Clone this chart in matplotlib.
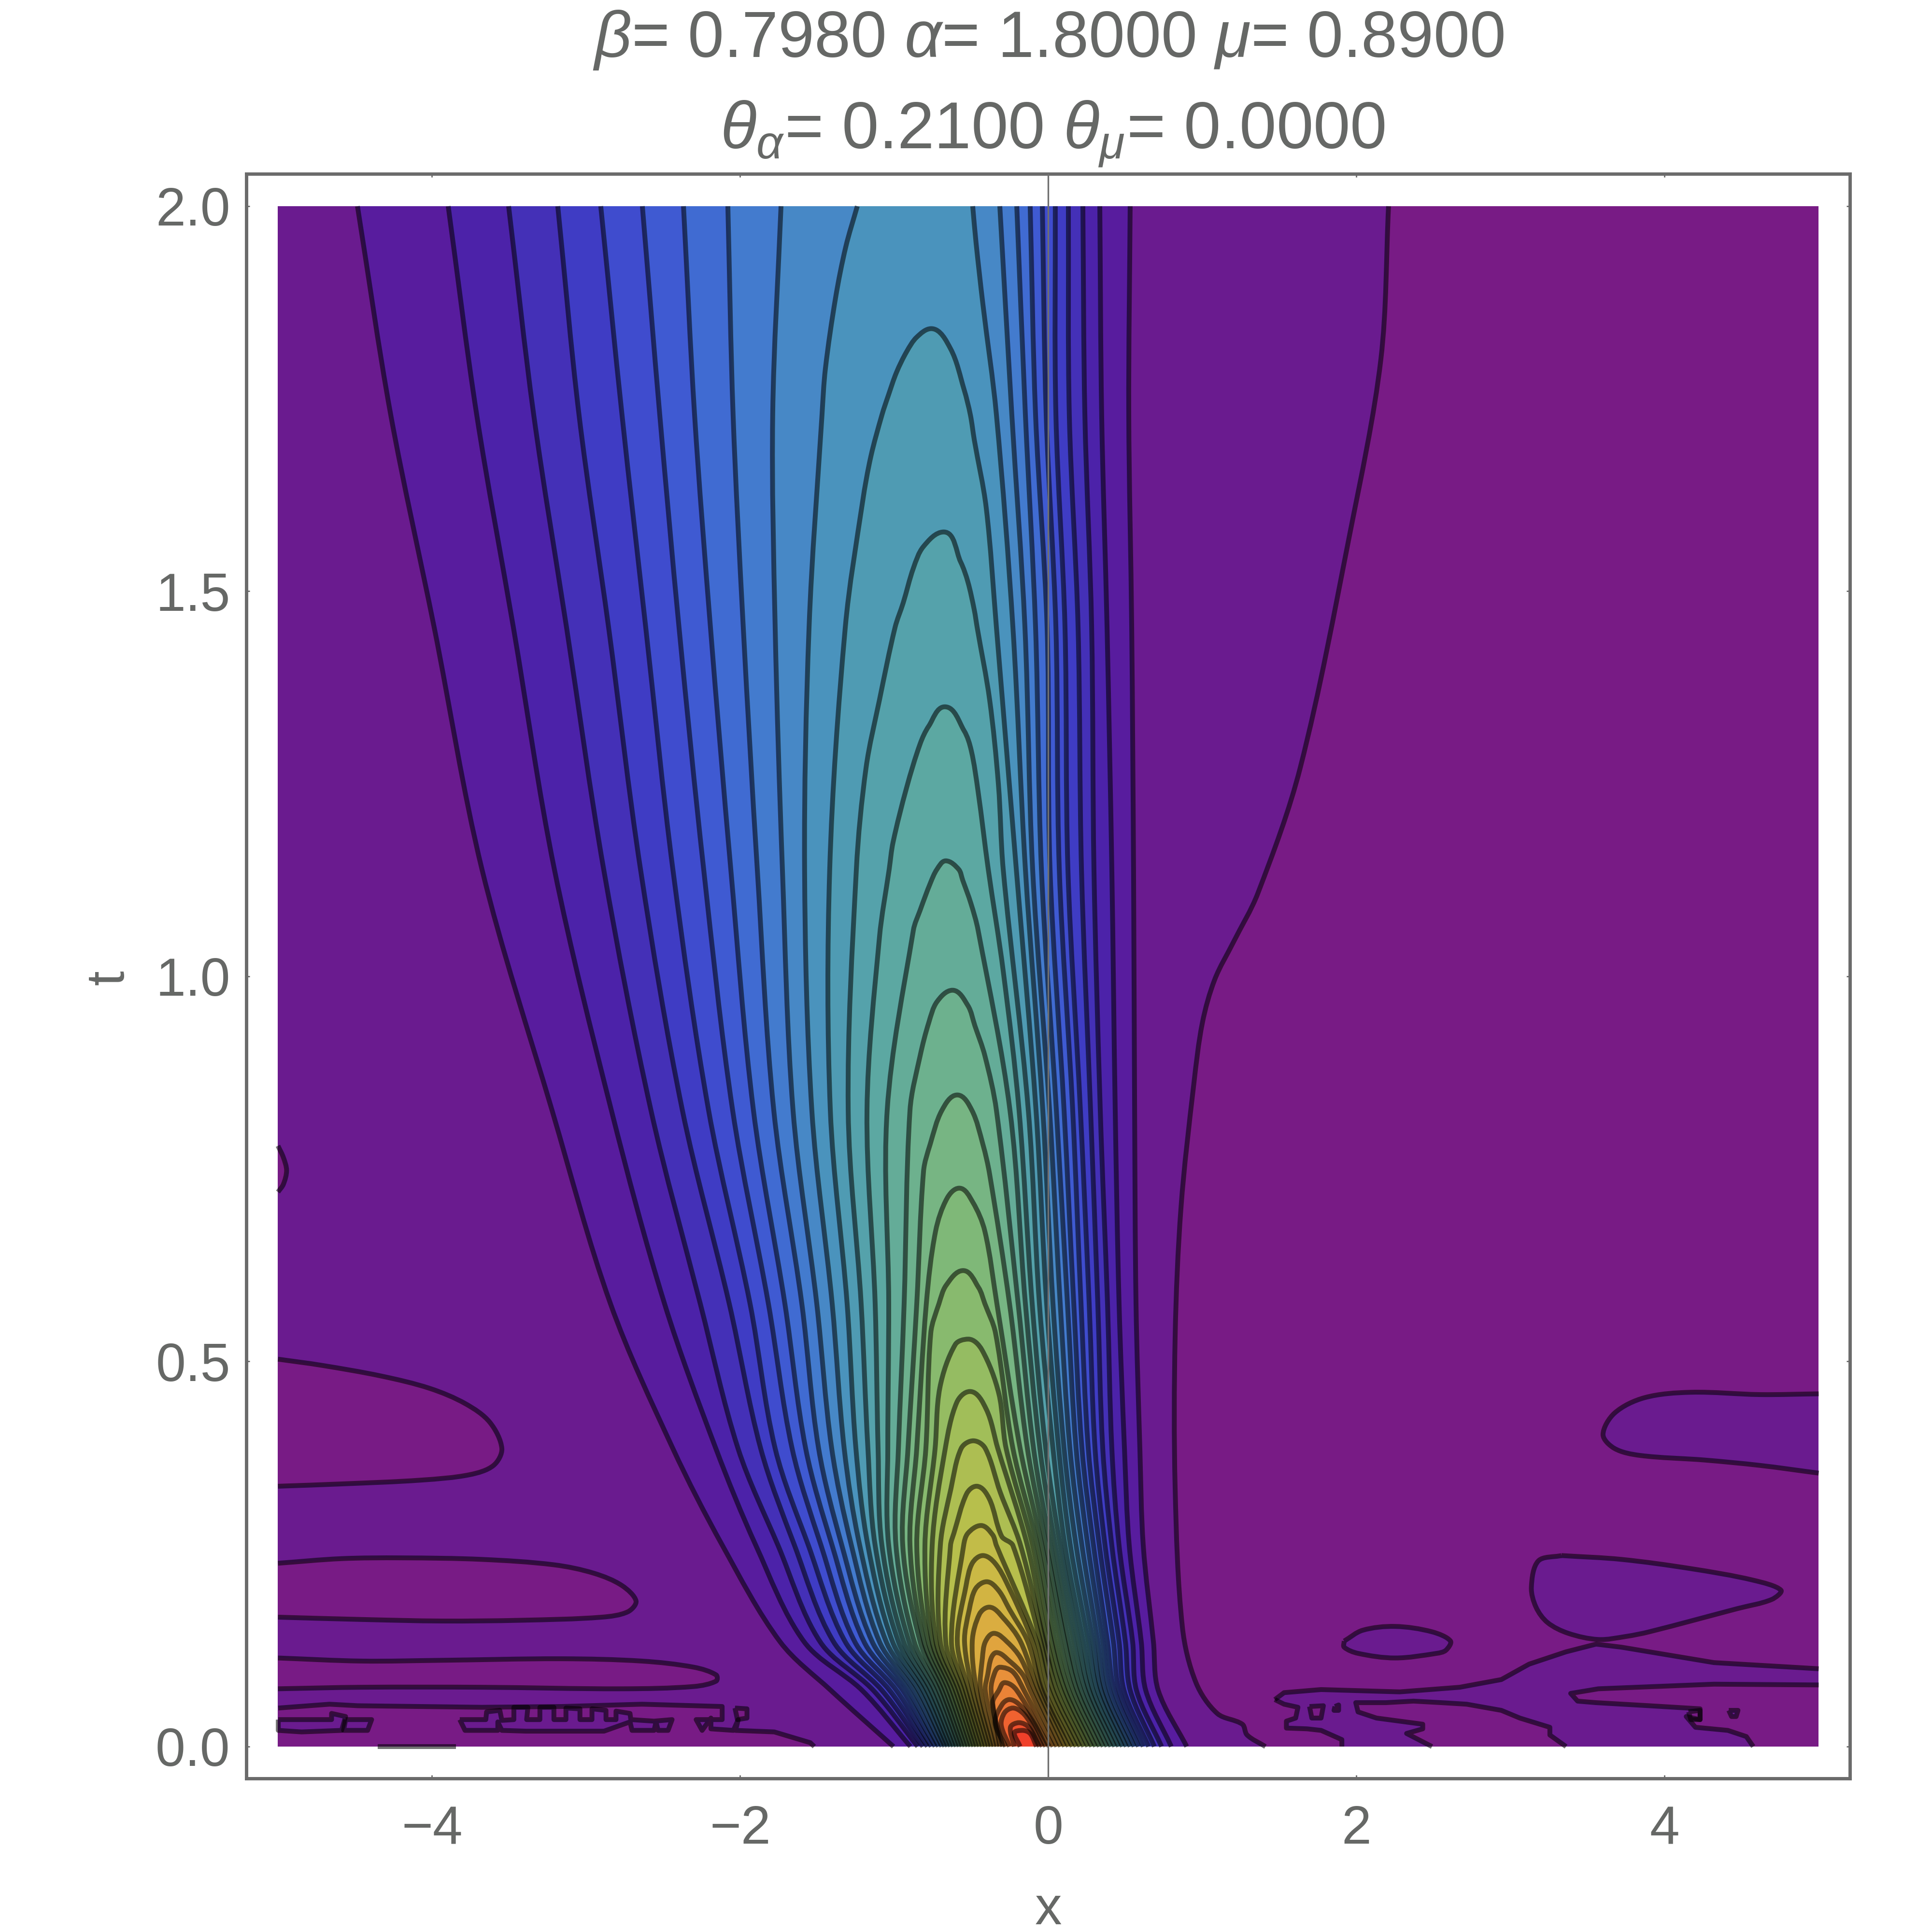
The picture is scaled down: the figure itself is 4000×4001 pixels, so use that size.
import numpy as np
import matplotlib
matplotlib.use("Agg")
import matplotlib.pyplot as plt
from matplotlib.path import Path
from matplotlib.patches import PathPatch, Rectangle

t_rows = [0.0, 0.073, 0.136, 0.261, 0.387, 0.575, 0.826, 1.139, 1.453, 1.729, 2.0]

# x of each contour on its left side, outermost first
left_t000 = [-1.005, -0.895, -0.848, -0.814, -0.785, -0.760, -0.735, -0.713, -0.691, -0.672, -0.654, -0.635, -0.616, -0.597, -0.578, -0.560, -0.541, -0.522, -0.503, -0.484, -0.466, -0.447, -0.428, -0.409, -0.390, -0.372, -0.353, -0.334, -0.315, -0.296, -0.277, -0.252, -0.221, -0.183]
left_t007 = [-1.412, -1.209, -1.136, -1.080, -1.030, -0.986, -0.945, -0.908, -0.873, -0.842, -0.814, -0.788, -0.763, -0.738, -0.713, -0.691, -0.669, -0.647, -0.625, -0.603, -0.582, -0.560, -0.538, -0.516, -0.491, -0.466, -0.440, -0.409, -0.372, -0.321]
left_t014 = [-1.741, -1.585, -1.481, -1.394, -1.318, -1.256, -1.196, -1.143, -1.096, -1.052, -1.011, -0.973, -0.939, -0.904, -0.870, -0.832, -0.807, -0.779, -0.754, -0.729, -0.701, -0.666, -0.629, -0.591, -0.544, -0.494, -0.409]
left_t026 = [-2.115, -1.898, -1.754, -1.647, -1.557, -1.475, -1.403, -1.340, -1.278, -1.224, -1.171, -1.124, -1.080, -1.036, -0.989, -0.945, -0.898, -0.854, -0.801, -0.754, -0.701, -0.635, -0.550]
left_t039 = [-2.437, -2.158, -2.014, -1.867, -1.773, -1.663, -1.575, -1.491, -1.406, -1.325, -1.249, -1.171, -1.105, -1.042, -0.973, -0.911, -0.854, -0.795, -0.735, -0.669, -0.566]
left_t058 = [-2.842, -2.491, -2.259, -2.071, -1.936, -1.817, -1.710, -1.600, -1.503, -1.403, -1.306, -1.215, -1.124, -1.036, -0.936, -0.854, -0.792, -0.710]
left_t083 = [-3.221, -2.836, -2.579, -2.375, -2.205, -2.049, -1.914, -1.782, -1.657, -1.535, -1.415, -1.299, -1.177, -1.046, -0.898, -0.691]
left_t114 = [-3.676, -3.206, -2.886, -2.647, -2.437, -2.237, -2.061, -1.889, -1.726, -1.582, -1.419, -1.246, -1.033, -0.723]
left_t145 = [-3.986, -3.472, -3.127, -2.854, -2.613, -2.397, -2.193, -1.980, -1.773, -1.553, -1.318, -0.995]
left_t173 = [-4.268, -3.710, -3.340, -3.046, -2.767, -2.522, -2.296, -2.046, -1.789, -1.469, -1.080]
left_t200 = [-4.484, -3.895, -3.503, -3.184, -2.905, -2.635, -2.368, -2.080, -1.735, -1.240]

# x of the same contours on their right side
right_t000 = [0.898, 0.798, 0.735, 0.688, 0.651, 0.616, 0.585, 0.557, 0.531, 0.506, 0.481, 0.456, 0.431, 0.406, 0.381, 0.356, 0.331, 0.306, 0.281, 0.256, 0.230, 0.205, 0.180, 0.155, 0.130, 0.105, 0.080, 0.055, 0.030, 0.005, -0.017, -0.039, -0.058, -0.077]
right_t007 = [0.713, 0.632, 0.572, 0.531, 0.491, 0.459, 0.428, 0.397, 0.368, 0.343, 0.318, 0.290, 0.265, 0.240, 0.212, 0.187, 0.161, 0.133, 0.108, 0.083, 0.055, 0.030, 0.005, -0.024, -0.042, -0.064, -0.089, -0.118, -0.158, -0.205]
right_t014 = [0.682, 0.603, 0.547, 0.500, 0.459, 0.422, 0.384, 0.353, 0.321, 0.290, 0.259, 0.227, 0.196, 0.165, 0.133, 0.108, 0.077, 0.045, 0.020, -0.008, -0.027, -0.049, -0.074, -0.102, -0.133, -0.180, -0.268]
right_t026 = [0.616, 0.525, 0.459, 0.412, 0.368, 0.331, 0.293, 0.256, 0.218, 0.180, 0.143, 0.108, 0.077, 0.045, 0.014, -0.014, -0.042, -0.071, -0.102, -0.136, -0.180, -0.230, -0.337]
right_t039 = [0.594, 0.494, 0.412, 0.353, 0.303, 0.259, 0.218, 0.180, 0.140, 0.102, 0.067, 0.030, -0.017, -0.055, -0.096, -0.136, -0.183, -0.230, -0.274, -0.328, -0.409]
right_t058 = [0.569, 0.459, 0.384, 0.321, 0.265, 0.212, 0.165, 0.124, 0.077, 0.030, -0.011, -0.058, -0.105, -0.149, -0.196, -0.252, -0.334, -0.412]
right_t083 = [0.560, 0.434, 0.337, 0.274, 0.208, 0.158, 0.102, 0.052, 0.008, -0.036, -0.080, -0.130, -0.190, -0.249, -0.337, -0.496]
right_t114 = [0.553, 0.412, 0.296, 0.215, 0.127, 0.071, 0.011, -0.045, -0.102, -0.149, -0.208, -0.293, -0.390, -0.582]
right_t145 = [0.541, 0.381, 0.281, 0.193, 0.108, 0.049, -0.008, -0.083, -0.152, -0.230, -0.337, -0.462]
right_t173 = [0.522, 0.346, 0.237, 0.136, 0.049, -0.014, -0.083, -0.149, -0.237, -0.337, -0.506]
right_t200 = [0.531, 0.334, 0.224, 0.130, 0.045, -0.039, -0.118, -0.205, -0.315, -0.491]

left_rows = [left_t000, left_t007, left_t014, left_t026, left_t039, left_t058, left_t083, left_t114, left_t145, left_t173, left_t200]
right_rows = [right_t000, right_t007, right_t014, right_t026, right_t039, right_t058, right_t083, right_t114, right_t145, right_t173, right_t200]

# tops of the contours that close below t=2
apex_x = [-0.760, -0.679, -0.672, -0.666, -0.622, -0.591, -0.578, -0.553, -0.519, -0.509, -0.487, -0.466, -0.437, -0.425, -0.400, -0.384, -0.353, -0.337, -0.315, -0.284, -0.252, -0.230, -0.190, -0.168]
apex_t = [1.841, 1.577, 1.350, 1.150, 0.982, 0.846, 0.725, 0.618, 0.529, 0.461, 0.397, 0.338, 0.287, 0.248, 0.214, 0.181, 0.147, 0.122, 0.103, 0.083, 0.061, 0.050, 0.031, 0.021]

# extra points read on the shoulders of the arcs, index 9 is the last open contour
extra_left_x = [[], [], [], [], [], [], [], [], [],
                [-1.315, -1.381, -1.447],
                [-0.854, -0.920, -0.986, -1.039, -1.152, -1.205], [-0.811, -0.876, -0.942, -1.096, -1.183], [-0.776, -0.832, -0.920, -1.008, -1.096], [-0.766, -0.832, -0.876], [-0.723, -0.776, -0.832], [-0.767, -0.810], [-0.657, -0.732],
                [-0.663, -0.763], [-0.604, -0.704], [-0.594], [-0.632], [-0.531, -0.613], [-0.522], [-0.494, -0.534],
                [-0.472, -0.513], [-0.447, -0.478], [-0.428], [-0.371, -0.393], [-0.346], [-0.361],
                [-0.299, -0.346], [-0.284, -0.306], [-0.246], [-0.221]]
extra_left_t = [[], [], [], [], [], [], [], [], [],
                [1.947, 1.881, 1.789],
                [1.830, 1.811, 1.784, 1.754, 1.675, 1.617], [1.558, 1.530, 1.485, 1.359, 1.271], [1.325, 1.302, 1.245, 1.174, 1.051], [1.121, 1.086, 1.060], [0.967, 0.940, 0.897], [0.782, 0.747], [0.712, 0.669],
                [0.599, 0.537], [0.522, 0.466], [0.447], [0.335], [0.328, 0.277], [0.277], [0.238, 0.209],
                [0.205, 0.178], [0.172, 0.147], [0.115], [0.115, 0.094], [0.097], [0.056],
                [0.055, 0.031], [0.044, 0.028], [0.025], [0.018]]
extra_right_x = [[], [], [], [], [], [], [], [], [],
                 [-0.469, -0.425],
                 [-0.635, -0.547, -0.481, -0.403], [-0.569, -0.522, -0.481, -0.381, -0.324], [-0.547, -0.500, -0.456, -0.293], [-0.556, -0.503, -0.456], [-0.522, -0.477, -0.412], [-0.425, -0.381], [-0.491, -0.412],
                 [-0.453, -0.343], [-0.431, -0.321], [-0.403], [-0.312], [-0.384, -0.303], [-0.362], [-0.346, -0.262],
                 [-0.324, -0.252], [-0.293, -0.221], [-0.180], [-0.252, -0.168], [-0.230, -0.136], [-0.149],
                 [-0.180, -0.096], [-0.168, -0.118], [-0.127, -0.033], [-0.118]]
extra_right_t = [[], [], [], [], [], [], [], [], [],
                 [1.952, 1.873],
                 [1.815, 1.762, 1.697, 1.608], [1.538, 1.512, 1.476, 1.359, 1.249], [1.319, 1.293, 1.240, 1.007], [1.125, 1.095, 1.060], [0.962, 0.936, 0.897], [0.782, 0.743], [0.707, 0.669],
                 [0.596, 0.537], [0.515, 0.458], [0.438], [0.330], [0.322, 0.273], [0.275], [0.238, 0.209],
                 [0.203, 0.178], [0.167, 0.147], [0.115], [0.111, 0.094], [0.097, 0.078], [0.063],
                 [0.053, 0.031], [0.044, 0.031], [0.025, 0.011], [0.017]]

# fill colour inside each of those contours
level_colors = ["#581c9e", "#4c22a9", "#4430b7", "#3f3cc4", "#3f4cce", "#3f5ad2", "#406bd2", "#437bce", "#4788c6", "#4a93bd",
                "#4f9bb3", "#55a2ab", "#5ca8a2", "#64ac98", "#6db18e", "#77b583", "#7fb878", "#88ba6e", "#95bc62", "#a1be59",
                "#adbe52", "#b7bf4c", "#c2bc48", "#cbb945", "#d2b442", "#daad40", "#e0a43e", "#e49b3c", "#e8903a", "#eb8337",
                "#ee7434", "#ef6230", "#f0502d", "#f0402a"]
color_low = "#781b85"
color_first = "#6a1b8f"

# first contour, right of the peak
edge_x = [2.208, 2.158, 1.958, 1.635, 1.36, 1.20, 1.08, 1.00, 0.944, 0.861, 0.823, 0.823, 0.870, 0.958, 1.096, 1.259, 1.290, 1.409]
edge_t = [2.0, 1.801, 1.576, 1.271, 1.108, 1.044, 0.996, 0.940, 0.860, 0.700, 0.533, 0.335, 0.155, 0.083, 0.043, 0.029, 0.015, 0.0]

# low pockets on the left
pocket1_x = [-5.0, -4.717, -4.328, -4.014, -3.782, -3.625, -3.547, -3.601, -3.755, -4.068, -4.588, -5.0]
pocket1_t = [0.503, 0.495, 0.481, 0.465, 0.445, 0.421, 0.387, 0.365, 0.353, 0.346, 0.341, 0.338]
pocket2_x = [-5.0, -4.588, -4.196, -3.676, -3.209, -2.949, -2.767, -2.676, -2.729, -2.898, -3.419, -3.936, -4.456, -5.0]
pocket2_t = [0.238, 0.244, 0.245, 0.243, 0.236, 0.225, 0.209, 0.189, 0.175, 0.168, 0.164, 0.163, 0.165, 0.168]
pocket3_x = [-5.0, -4.456, -3.936, -3.159, -2.639, -2.300, -2.156, -2.156, -2.300, -2.767, -3.676, -4.456, -5.0]
pocket3_t = [0.115, 0.111, 0.112, 0.114, 0.111, 0.103, 0.093, 0.085, 0.078, 0.075, 0.077, 0.077, 0.075]
pocket4_x = [-5.0, -4.965, -4.944, -4.965, -5.0]
pocket4_t = [0.780, 0.765, 0.748, 0.730, 0.720]

# rough bottom left band, jagged as in the source
band_x = [-4.998, -4.665, -4.483, -3.677, -3.157, -2.637, -2.117, -2.117, -2.286, -2.247, -2.190, -2.190, -2.044, -2.013, -2.030, -1.779, -1.545, -1.519]
band_t = [0.050, 0.055, 0.053, 0.051, 0.052, 0.055, 0.052, 0.035, 0.035, 0.021, 0.037, 0.023, 0.021, 0.035, 0.021, 0.019, 0.005, 0.0]
ring_x = [-3.820, -3.651, -3.646, -3.560, -3.547, -3.469, -3.469, -3.378, -3.386, -3.300, -3.300, -3.209, -3.209, -3.131, -3.131, -3.040, -3.040, -2.962, -2.962, -2.871, -2.871, -2.806, -2.806, -2.715, -2.710, -2.559, -2.442, -2.468, -2.533, -2.546, -2.559, -2.702, -2.715, -2.884, -3.040, -3.222, -3.391, -3.547, -3.573, -3.573, -3.786]
ring_t = [0.035, 0.035, 0.045, 0.047, 0.034, 0.035, 0.051, 0.051, 0.035, 0.035, 0.051, 0.051, 0.035, 0.035, 0.050, 0.049, 0.035, 0.035, 0.049, 0.047, 0.035, 0.035, 0.046, 0.043, 0.035, 0.033, 0.035, 0.021, 0.021, 0.032, 0.021, 0.021, 0.032, 0.020, 0.020, 0.020, 0.020, 0.021, 0.032, 0.021, 0.021]
hole1_x = [-4.998, -4.652, -4.652, -4.561, -4.587, -4.847, -4.998]
hole1_t = [0.035, 0.035, 0.043, 0.039, 0.021, 0.019, 0.021]
hole2_x = [-4.561, -4.392, -4.418, -4.574]
hole2_t = [0.035, 0.035, 0.021, 0.021]
speck1_x = [-2.034, -1.956, -1.956, -2.018]
speck1_t = [0.050, 0.049, 0.037, 0.035]
stub_x = [-4.353, -3.846]
stub_t = [0.0, 0.0]

# raised patches on the right
patch1_x = [5.0, 4.62, 4.17, 3.87, 3.675, 3.60, 3.675, 3.84, 4.26, 4.62, 5.0]
patch1_t = [0.458, 0.457, 0.460, 0.453, 0.433, 0.405, 0.387, 0.378, 0.372, 0.365, 0.355]
patch2_x = [3.33, 3.72, 4.17, 4.575, 4.755, 4.695, 4.47, 3.90, 3.75, 3.57, 3.375, 3.24, 3.165, 3.135, 3.18, 3.33]
patch2_t = [0.248, 0.243, 0.231, 0.216, 0.203, 0.191, 0.179, 0.149, 0.143, 0.139, 0.147, 0.161, 0.181, 0.207, 0.241, 0.248]
patch3_x = [1.92, 2.04, 2.25, 2.49, 2.61, 2.58, 2.52, 2.25, 2.01, 1.92, 1.92]
patch3_t = [0.137, 0.151, 0.156, 0.149, 0.137, 0.125, 0.121, 0.115, 0.121, 0.129, 0.137]
patch4_x = [1.47, 1.53, 1.77, 2.28, 2.67, 2.94, 3.12, 3.36, 3.555, 3.72, 3.90, 4.32, 5.0, 5.0, 4.32, 3.57, 3.39, 3.435, 3.555, 3.90, 4.23, 4.23, 4.14, 4.20, 4.41, 4.53, 4.575, 3.36, 3.255, 3.255, 3.06, 2.94, 2.715, 2.55, 2.37, 2.19, 1.995, 2.01, 2.13, 2.43, 2.43, 2.325, 2.49, 1.905, 1.905, 1.77, 1.68, 1.545, 1.545, 1.605, 1.62, 1.53, 1.47]
patch4_t = [0.061, 0.070, 0.074, 0.071, 0.077, 0.087, 0.107, 0.123, 0.133, 0.129, 0.123, 0.109, 0.101, 0.080, 0.081, 0.075, 0.069, 0.059, 0.057, 0.053, 0.049, 0.035, 0.039, 0.025, 0.021, 0.013, 0.0, 0.0, 0.015, 0.025, 0.037, 0.047, 0.055, 0.057, 0.059, 0.057, 0.057, 0.045, 0.037, 0.029, 0.023, 0.017, 0.0, 0.0, 0.009, 0.021, 0.023, 0.024, 0.033, 0.037, 0.051, 0.055, 0.061]
speck2_x = [1.695, 1.785, 1.77, 1.71]
speck2_t = [0.052, 0.053, 0.037, 0.037]
speck3_x = [1.86, 1.884, 1.884, 1.854]
speck3_t = [0.052, 0.054, 0.047, 0.047]
speck4_x = [4.155, 4.23, 4.23, 4.17]
speck4_t = [0.045, 0.047, 0.035, 0.035]
speck5_x = [4.416, 4.476, 4.464, 4.434]
speck5_t = [0.047, 0.047, 0.039, 0.039]

x_ticks = [-4, -2, 0, 2, 4]
x_tick_labels = ["\u22124", "\u22122", "0", "2", "4"]
t_ticks = [0.0, 0.5, 1.0, 1.5, 2.0]
t_tick_labels = ["0.0", "0.5", "1.0", "1.5", "2.0"]

title_1 = r"$\beta$= 0.7980 $\alpha$= 1.8000 $\mu$= 0.8900"
title_2 = r"$\theta_{\alpha}$= 0.2100 $\theta_{\mu}$= 0.0000"

gray = "#666866"
frame_gray = "#6b6b6b"
line_rgba = (0, 0, 0, 0.55)
line_w = 7.2


def smooth_segments(x, t, top=None):
    # bezier pieces through the read points, tangents from the chord lengths
    p = np.column_stack([x, t]).astype(float)
    q = p * np.array([319.0, 1595.0])
    d = np.maximum(np.hypot(*(q[1:] - q[:-1]).T), 1e-6)
    m = np.zeros_like(p)
    m[1:-1] = (p[2:] - p[:-2]) / (d[1:] + d[:-1])[:, None]
    m[0] = (p[1] - p[0]) / d[0]
    m[-1] = (p[-1] - p[-2]) / d[-1]
    if top is not None:
        # the arc runs flat over its top
        m[top] = [1 / 319.0, 0.0]
    verts, codes = [], []
    for i in range(len(p) - 1):
        verts += [p[i] + m[i] * d[i] / 3, p[i + 1] - m[i + 1] * d[i] / 3, p[i + 1]]
        codes += [Path.CURVE4] * 3
    return p[0], verts, codes


def smooth_path(x, t, top=None):
    start, verts, codes = smooth_segments(x, t, top)
    return Path([start] + verts, [Path.MOVETO] + codes)


def region_path(branches, top=None):
    # closed outline made of smooth branches joined by straight edges
    verts, codes = [], []
    for x, t in branches:
        start, v, c = smooth_segments(x, t, top)
        verts += [start] + v
        codes += [Path.LINETO if codes else Path.MOVETO] + c
    verts.append(verts[0])
    codes.append(Path.CLOSEPOLY)
    return Path(verts, codes)


def fill(ax, path, color, clip):
    patch = PathPatch(path, facecolor=color, edgecolor="none", lw=0, zorder=2)
    ax.add_patch(patch)
    patch.set_clip_path(clip)


def draw_line(ax, path):
    ax.add_patch(PathPatch(path, facecolor="none", edgecolor=line_rgba, lw=line_w,
                           capstyle="butt", joinstyle="round", zorder=4, clip_on=False))


def poly_path(x, t, closed=False):
    pts = np.column_stack([x, t])
    if closed:
        pts = np.vstack([pts, pts[0]])
    return Path(pts)


def branch(i, rows_x, more_x, more_t):
    # row readings of one contour plus its shoulder points, going up in t
    pts = [(rows_x[r][i], t_rows[r]) for r in range(len(t_rows)) if i < len(rows_x[r])]
    row_t = [p[1] for p in pts]
    for x, t in zip(more_x[i], more_t[i]):
        if min(abs(t - s) for s in row_t) > 0.012:
            pts.append((x, t))
    pts.sort(key=lambda p: p[1])
    return [p[0] for p in pts], [p[1] for p in pts]


def draw_contours(ax, clip):
    fill(ax, Path([(-5, 0), (5, 0), (5, 2), (-5, 2), (-5, 0)]), color_low, clip)

    # first level takes the whole left side
    first = region_path([([-5, -5], [0, 2]), (edge_x, edge_t)])
    fill(ax, first, color_first, clip)
    lines = [smooth_path(edge_x, edge_t)]

    # low pockets on the left, raised patches on the right
    for x, t in [(pocket1_x, pocket1_t), (pocket2_x, pocket2_t), (pocket3_x, pocket3_t), (pocket4_x, pocket4_t)]:
        fill(ax, poly_path(x, t), color_low, clip)
        lines.append(smooth_path(x, t))
    band = np.column_stack([band_x + [-5.0], band_t + [0.0]])
    fill(ax, Path(band), color_low, clip)
    lines.append(poly_path(band_x, band_t))
    for x, t in [(ring_x, ring_t), (hole1_x, hole1_t), (hole2_x, hole2_t)]:
        fill(ax, poly_path(x, t, True), color_first, clip)
        lines.append(poly_path(x, t, True))
    fill(ax, poly_path(speck1_x, speck1_t, True), color_low, clip)
    lines.append(poly_path(speck1_x, speck1_t, True))
    lines.append(poly_path(stub_x, stub_t))

    for x, t in [(patch1_x, patch1_t), (patch2_x, patch2_t), (patch3_x, patch3_t)]:
        fill(ax, smooth_path(x, t), color_first, clip)
        lines.append(smooth_path(x, t))
    fill(ax, poly_path(patch4_x, patch4_t, True), color_first, clip)
    for a, b in [(0, 13), (13, 27), (27, 43), (43, len(patch4_x))]:
        lines.append(poly_path(patch4_x[a:b], patch4_t[a:b]))
    for x, t, c in [(speck2_x, speck2_t, color_low), (speck3_x, speck3_t, color_low), (speck4_x, speck4_t, color_low), (speck5_x, speck5_t, color_first)]:
        fill(ax, poly_path(x, t, True), c, clip)
        lines.append(poly_path(x, t, True))

    # nested contours around the peak, outermost first
    for i, color in enumerate(level_colors):
        lx, lt = branch(i, left_rows, extra_left_x, extra_left_t)
        rx, rt = branch(i, right_rows, extra_right_x, extra_right_t)
        if i < 10:
            fill(ax, region_path([(lx, lt), (rx[::-1], rt[::-1])]), color, clip)
            lines.append(smooth_path(lx, lt))
            lines.append(smooth_path(rx[::-1], rt[::-1]))
        else:
            x = lx + [apex_x[i - 10]] + rx[::-1]
            t = lt + [apex_t[i - 10]] + rt[::-1]
            fill(ax, region_path([(x, t)], top=len(lx)), color, clip)
            lines.append(smooth_path(x, t, top=len(lx)))

    for path in lines:
        draw_line(ax, path)


def main():
    plt.rcParams["font.family"] = "Liberation Sans"
    plt.rcParams["mathtext.fontset"] = "custom"
    plt.rcParams["mathtext.rm"] = "Liberation Sans"
    plt.rcParams["mathtext.it"] = "Liberation Sans:italic"
    plt.rcParams["mathtext.bf"] = "Liberation Sans:bold"

    fig = plt.figure(figsize=(40, 40.01), dpi=100)
    ax = fig.add_axes([510 / 4000, 1 - 3683 / 4001, 3320 / 4000, 3323 / 4001])
    ax.set_xlim(-5.2053, 5.2022)
    ax.set_ylim(-0.0414, 2.0420)

    clip = Rectangle((-5, 0), 10, 2, transform=ax.transData)
    draw_contours(ax, clip)

    ax.axvline(0, color="#707070", lw=2.4, zorder=6)

    for s in ax.spines.values():
        s.set_color(frame_gray)
        s.set_linewidth(5)
    ax.set_xticks(x_ticks)
    ax.set_xticklabels(x_tick_labels)
    ax.set_yticks(t_ticks)
    ax.set_yticklabels(t_tick_labels)
    ax.tick_params(axis="both", direction="in", length=5, width=2, color=frame_gray,
                   top=True, right=True, labelsize=80, labelcolor=gray)
    ax.tick_params(axis="x", pad=39)
    ax.tick_params(axis="y", pad=24)

    fig.text(2171 / 4000, 1 - 3985 / 4001, "x", fontsize=80, color=gray, ha="center", va="baseline")
    fig.text(226 / 4000, 1 - 2025 / 4001, "t", fontsize=80, color=gray, ha="center", va="center", rotation=90)
    fig.text(2171 / 4000, 1 - 118 / 4001, title_1, fontsize=97, color=gray, ha="center", va="baseline")
    fig.text(2180 / 4000, 1 - 308 / 4001, title_2, fontsize=99, color=gray, ha="center", va="baseline")

    fig.savefig("out.png", dpi=100, facecolor="white")


if __name__ == "__main__":
    main()
